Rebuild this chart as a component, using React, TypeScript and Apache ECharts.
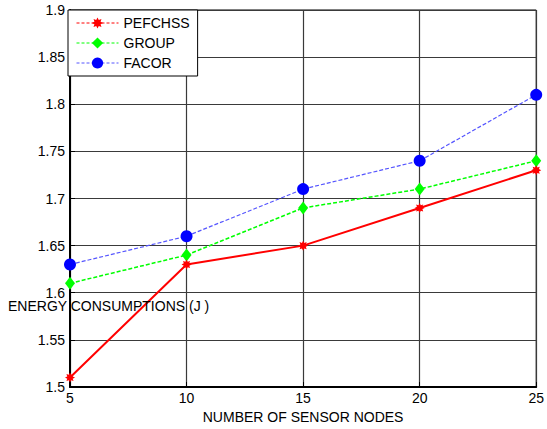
import React, { useEffect, useRef } from "react";
import * as echarts from "echarts";

// Number of sensor nodes on the x axis
const nodeCounts = [5, 10, 15, 20, 25];

// Energy consumption (J) per scheme
const pefchss = [1.51, 1.63, 1.65, 1.69, 1.73];
const group = [1.61, 1.64, 1.69, 1.71, 1.74];
const facor = [1.63, 1.66, 1.71, 1.74, 1.81];

const seriesNames = ["PEFCHSS", "GROUP", "FACOR"];

const yTicks = { min: 1.5, max: 1.9, step: 0.05 };
const xTicks = { min: 5, max: 25, step: 5 };

const FONT = 'Arial, "Liberation Sans", Helvetica, sans-serif';

// bold eight-pointed star used as the PEFCHSS marker
const STAR =
  "path://M0,-10L2.3,-5.5L7.07,-7.07L5.5,-2.3L10,0L5.5,2.3L7.07,7.07L2.3,5.5L0,10L-2.3,5.5L-7.07,7.07L-5.5,2.3L-10,0L-5.5,-2.3L-7.07,-7.07L-2.3,-5.5Z";

const pairs = (ys: number[]) => nodeCounts.map((x, i) => [x, ys[i]]);

export default function App() {
  const ref = useRef<HTMLDivElement>(null);

  useEffect(() => {
    if (!ref.current) return;
    const chart = echarts.init(ref.current, undefined, { renderer: "svg" });
    chart.setOption({
      animation: false,
      backgroundColor: "#ffffff",
      textStyle: { fontFamily: FONT },
      grid: {
        left: 70,
        right: 7,
        top: 10,
        bottom: 40,
        show: true,
        borderColor: "#000",
        borderWidth: 1,
        backgroundColor: "transparent",
      },
      legend: {
        orient: "vertical",
        left: 68,
        top: 10,
        padding: [6, 8, 6, 8],
        itemWidth: 42,
        itemHeight: 14,
        itemGap: 6,
        backgroundColor: "#fff",
        borderColor: "#000",
        borderWidth: 1,
        borderRadius: 0,
        data: seriesNames,
        lineStyle: { width: 1, type: [3, 2] },
        textStyle: { fontSize: 14, color: "#000", fontFamily: FONT },
      },
      xAxis: {
        type: "value",
        min: xTicks.min,
        max: xTicks.max,
        interval: xTicks.step,
        name: "NUMBER OF SENSOR NODES",
        nameLocation: "middle",
        nameGap: 23,
        nameTextStyle: { fontSize: 14, color: "#000", fontFamily: FONT },
        axisLine: { lineStyle: { color: "#000", width: 2 } },
        axisTick: { inside: true, length: 5, lineStyle: { color: "#000" } },
        axisLabel: { fontSize: 14, color: "#000", margin: 4, fontFamily: FONT },
        splitLine: { show: true, lineStyle: { color: "#3a3a3a", width: 1.2 } },
      },
      yAxis: {
        type: "value",
        min: yTicks.min,
        max: yTicks.max,
        interval: yTicks.step,
        axisLine: { show: true, lineStyle: { color: "#000", width: 2 } },
        axisTick: { show: true, inside: true, length: 5, lineStyle: { color: "#000" } },
        axisLabel: {
          fontSize: 14,
          color: "#000",
          margin: 5,
          fontFamily: FONT,
          formatter: (v: number) => String(Math.round(v * 100) / 100),
        },
        splitLine: { show: true, lineStyle: { color: "#3a3a3a", width: 1.2 } },
      },
      graphic: [
        {
          type: "text",
          left: 8,
          top: 299,
          z: 100,
          style: {
            text: "ENERGY CONSUMPTIONS (J )",
            fontSize: 14,
            fill: "#000",
            fontFamily: FONT,
          },
        },
      ],
      series: [
        {
          name: seriesNames[0],
          type: "line",
          data: pairs(pefchss),
          symbol: STAR,
          symbolSize: 10,
          color: "#ff0000",
          lineStyle: { color: "#ff0000", width: 2, type: "solid" },
          itemStyle: { color: "#ff0000" },
          z: 4,
        },
        {
          name: seriesNames[1],
          type: "line",
          data: pairs(group),
          symbol: "diamond",
          symbolSize: [10, 13],
          color: "#00ff00",
          lineStyle: { color: "#00ff00", width: 1.5, type: [4, 2] },
          itemStyle: { color: "#00ff00" },
          z: 3,
        },
        {
          name: seriesNames[2],
          type: "line",
          data: pairs(facor),
          symbol: "circle",
          symbolSize: 12,
          color: "#0000ff",
          lineStyle: { color: "#5555ff", width: 1.2, type: [4, 2] },
          itemStyle: { color: "#0000ff" },
          z: 2,
        },
      ],
    });
    return () => chart.dispose();
  }, []);

  return (
    <div
      ref={ref}
      style={{ position: "fixed", left: 0, top: 0, width: 547, height: 429, background: "#fff" }}
    />
  );
}
